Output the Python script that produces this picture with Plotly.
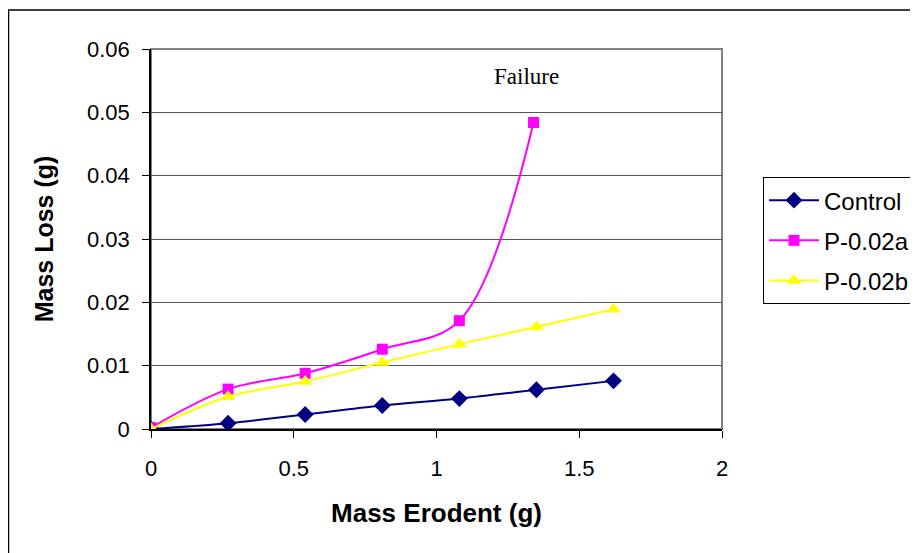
import plotly.graph_objects as go

mass_erodent = [0, 0.27, 0.54, 0.81, 1.08, 1.35, 1.62]
control = [0, 0.0009, 0.0023, 0.0037, 0.0048, 0.0062, 0.0076]
p002a_x = [0, 0.27, 0.54, 0.81, 1.08, 1.34]
p002a = [0.0002, 0.0063, 0.0088, 0.0126, 0.0171, 0.0484]
p002b = [0, 0.0051, 0.0075, 0.0105, 0.0134, 0.0161, 0.0189]

series_names = ["Control", "P-0.02a", "P-0.02b"]
x_ticks = [0, 0.5, 1, 1.5, 2]
y_ticks = [0, 0.01, 0.02, 0.03, 0.04, 0.05, 0.06]

FONT = "Liberation Sans, Arial, sans-serif"

fig = go.Figure()
fig.add_trace(go.Scatter(
    x=mass_erodent, y=control, name=series_names[0], mode="lines+markers",
    line=dict(color="#000080", width=2, shape="spline", smoothing=1),
    marker=dict(symbol="diamond", size=13, color="#000080"), legendgroup="a"))
fig.add_trace(go.Scatter(
    x=p002a_x, y=p002a, name=series_names[1], mode="lines+markers",
    line=dict(color="#FF00FF", width=2, shape="spline", smoothing=1),
    marker=dict(symbol="square", size=11, color="#FF00FF"), legendgroup="b"))
fig.add_trace(go.Scatter(
    x=mass_erodent, y=p002b, name=series_names[2], mode="lines+markers",
    line=dict(color="#FFFF00", width=2, shape="spline", smoothing=1),
    marker=dict(symbol="triangle-up", size=13, color="#FFFF00"), legendgroup="c"))

fig.add_annotation(x=1.316, y=0.0556, xref="x", yref="y", text="Failure",
                   showarrow=False,
                   font=dict(family="Liberation Serif, Times New Roman, serif", size=23, color="black"))

# outer chart frame
fig.add_shape(type="rect", xref="paper", yref="paper",
              x0=-0.2496, x1=1.40, y0=-0.40, y1=1.1026,
              line=dict(color="black", width=1.5), layer="below")
# plot area border (gray)
fig.add_shape(type="rect", xref="paper", yref="paper",
              x0=0, x1=1, y0=0, y1=1,
              line=dict(color="#808080", width=2), layer="below")

fig.update_layout(
    width=918, height=553,
    margin=dict(l=143, r=204, t=41, b=132, autoexpand=False),
    paper_bgcolor="white", plot_bgcolor="white",
    font=dict(family=FONT, size=22, color="black"),
    showlegend=True,
    legend=dict(x=1.0718, y=0.663, xanchor="left", yanchor="top",
                bordercolor="black", borderwidth=1,
                font=dict(family=FONT, size=24, color="black"),
                itemwidth=50,
                tracegroupgap=6, traceorder="grouped", bgcolor="white"),
    xaxis=dict(range=[0, 2], tickvals=x_ticks, ticks="outside", ticklen=7,
               tickcolor="black", showline=True, linecolor="black", linewidth=1.5,
               showgrid=False, zeroline=False, ticklabelstandoff=12,
               title=dict(text="<b>Mass Erodent (g)</b>", font=dict(size=26), standoff=24)),
    yaxis=dict(range=[0, 0.06], tickvals=y_ticks, ticks="outside", ticklen=7,
               tickcolor="black", showline=True, linecolor="black", linewidth=1.5,
               showgrid=True, gridcolor="#555555", gridwidth=1, zeroline=False,
               ticklabelstandoff=8,
               title=dict(text="<b>Mass Loss (g)</b>", font=dict(size=25), standoff=26)),
)

fig.write_html("out.html")
